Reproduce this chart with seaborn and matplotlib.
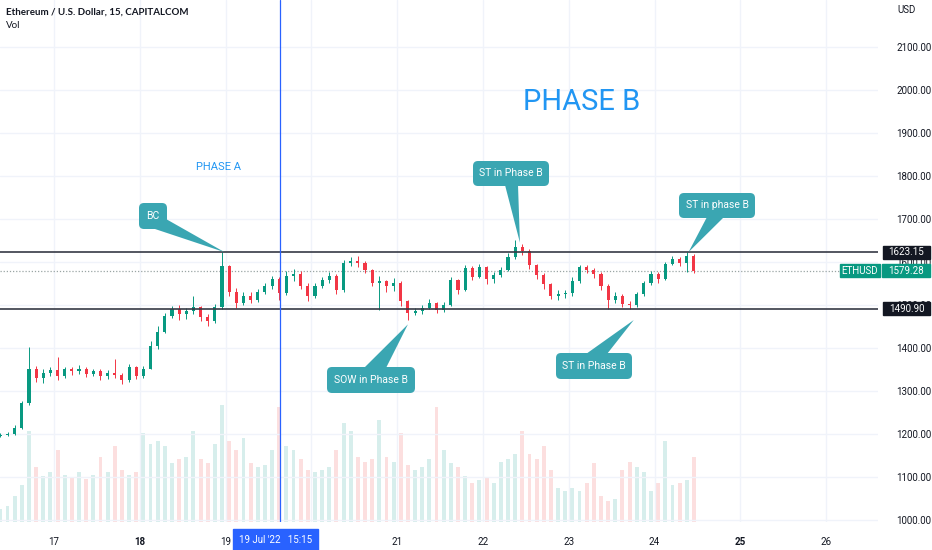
import numpy as np
import pandas as pd
import matplotlib
matplotlib.use("Agg")
import matplotlib.pyplot as plt
import matplotlib.dates as mdates
from matplotlib.patches import FancyBboxPatch, Polygon, Rectangle
from matplotlib.transforms import IdentityTransform, blended_transform_factory
import seaborn as sns

# 2h candles, starting 16 Jul 2022 08:00
first_open = 1196.0
closes = [1198, 1200, 1215, 1272, 1350, 1330, 1342, 1348, 1336, 1350,
          1346, 1352, 1340, 1346, 1334, 1342, 1338, 1326, 1356, 1336,
          1352, 1405, 1438, 1475, 1490, 1478, 1485, 1496, 1472, 1462,
          1495, 1590, 1530, 1505, 1522, 1512, 1530, 1545, 1560, 1528,
          1568, 1572, 1545, 1520, 1545, 1558, 1568, 1535, 1598, 1602,
          1598, 1582, 1552, 1555, 1545, 1552, 1510, 1482, 1486, 1494,
          1505, 1488, 1500, 1558, 1535, 1585, 1566, 1588, 1560, 1570,
          1582, 1612, 1636, 1626, 1592, 1570, 1548, 1522, 1526, 1528,
          1556, 1588, 1582, 1572, 1545, 1512, 1522, 1502, 1500, 1525,
          1550, 1572, 1560, 1595, 1608, 1598, 1615, 1579.28]
highs = [1202, 1204, 1220, 1276, 1402, 1358, 1350, 1356, 1378, 1356,
         1356, 1360, 1356, 1352, 1350, 1348, 1374, 1342, 1362, 1358,
         1358, 1416, 1450, 1482, 1498, 1500, 1492, 1522, 1498, 1478,
         1502, 1623, 1592, 1540, 1530, 1530, 1538, 1552, 1568, 1566,
         1578, 1584, 1578, 1550, 1552, 1566, 1576, 1572, 1605, 1612,
         1614, 1602, 1584, 1568, 1558, 1562, 1555, 1512, 1494, 1500,
         1515, 1508, 1508, 1564, 1560, 1594, 1590, 1596, 1590, 1576,
         1588, 1620, 1650, 1642, 1630, 1596, 1574, 1550, 1534, 1534,
         1564, 1594, 1594, 1586, 1576, 1548, 1530, 1526, 1510, 1530,
         1556, 1580, 1576, 1600, 1614, 1612, 1623, 1618]
lows = [1193, 1195, 1198, 1212, 1268, 1322, 1318, 1334, 1326, 1330,
        1338, 1340, 1333, 1334, 1326, 1328, 1330, 1316, 1322, 1328,
        1330, 1350, 1398, 1434, 1470, 1466, 1468, 1478, 1462, 1450,
        1458, 1490, 1520, 1492, 1500, 1504, 1508, 1526, 1538, 1512,
        1524, 1555, 1538, 1510, 1516, 1540, 1552, 1526, 1530, 1590,
        1588, 1575, 1544, 1488, 1530, 1532, 1498, 1465, 1476, 1478,
        1490, 1482, 1484, 1498, 1526, 1532, 1558, 1562, 1548, 1552,
        1566, 1578, 1606, 1616, 1584, 1560, 1538, 1515, 1512, 1516,
        1522, 1552, 1574, 1562, 1536, 1490, 1505, 1496, 1490, 1496,
        1520, 1546, 1552, 1558, 1592, 1590, 1576, 1574]
volumes = [10, 12, 20, 28, 70, 42, 35, 38, 55, 36,
           34, 38, 33, 36, 50, 38, 58, 40, 36, 38,
           68, 60, 62, 58, 45, 48, 50, 70, 48, 45,
           60, 90, 62, 55, 64, 45, 42, 44, 55, 88,
           58, 55, 48, 40, 38, 40, 42, 55, 76, 70,
           50, 46, 48, 78, 50, 46, 68, 44, 40, 42,
           48, 88, 55, 45, 42, 35, 30, 32, 34, 30,
           46, 48, 52, 70, 52, 48, 58, 40, 26, 24,
           26, 24, 30, 45, 20, 16, 18, 40, 46, 42,
           38, 24, 30, 62, 28, 30, 32, 50]

resistance = 1623.15
support = 1490.90
last_price = 1579.28
price_ticks = [1000, 1100, 1200, 1300, 1400, 1500, 1600, 1700, 1800, 1900, 2000, 2100]
day_ticks = [17, 18, 19, 20, 21, 22, 23, 24, 25, 26]
bold_days = [18, 25]
crosshair_time = "2022-07-19 15:15"

# text, tip time, tip price, box (x0, y0, x1, y1) px, pointer base px
callouts = [
    ("BC", "2022-07-18 23:40", 1623, (139, 203, 167, 229), [(155, 229), (166, 219)]),
    ("ST in Phase B", "2022-07-22 10:20", 1645, (473, 161, 549, 186), [(505, 185), (518, 185)]),
    ("ST in phase B", "2022-07-24 09:30", 1623, (679, 193, 755, 218), [(707, 217), (724, 217)]),
    ("SOW in Phase B", "2022-07-21 03:00", 1455, (327, 367, 415, 393), [(364, 368), (386, 368)]),
    ("ST in Phase B", "2022-07-23 18:10", 1465, (556, 353, 632, 379), [(586, 354), (607, 354)]),
]

UP, DOWN = "#26a69a", "#ef5350"
CALLOUT = "#3aa6b2"
TXT = "#131722"

sns.set_theme(style="white")
plt.rcParams['font.family'] = ['Roboto', 'DejaVu Sans']

W, H = 932, 550
fig = plt.figure(figsize=(W / 100, H / 100), dpi=100)
fig.patch.set_facecolor("white")
rect = [0, 1 - 522 / H, 878 / W, 522 / H]
axv = fig.add_axes(rect)
ax = fig.add_axes(rect)
ax.patch.set_visible(False)

starts = pd.date_range("2022-07-16 08:00", periods=len(closes), freq="2h")
tnum = mdates.date2num(starts + pd.Timedelta(hours=1))
t_first = mdates.date2num(starts[0])
bin_w = 2 / 24
opens = [first_open] + closes[:-1]
df = pd.DataFrame({"t": tnum, "open": opens, "close": closes,
                   "high": highs, "low": lows, "vol": volumes})
df["dir"] = np.where(df["close"] >= df["open"], "up", "down")

day0 = mdates.date2num(pd.Timestamp("2022-07-17"))
px_per_day = 85.8
x_left = day0 - 54 / px_per_day
x_right = x_left + 878 / px_per_day

# volume
sns.histplot(df, x="t", weights="vol", hue="dir", hue_order=["up", "down"],
             binwidth=bin_w, binrange=(t_first, t_first + bin_w * len(df)),
             palette={"up": UP, "down": DOWN}, alpha=0.18,
             shrink=0.55, linewidth=0, legend=False, ax=axv)
axv.set_xlim(x_left, x_right)
axv.set_ylim(0, 400)
axv.axis("off")

# grid
ax.set_xlim(x_left, x_right)
ax.set_ylim(995.3, 2209.3)
for p in price_ticks:
    ax.axhline(p, color="#f0f3fa", lw=1, zorder=0)
for d in day_ticks:
    ax.axvline(day0 + d - 17, color="#f0f3fa", lw=1, zorder=0)

# candles
cols = np.where(df["dir"] == "up", "#089981", "#f23645")
ax.vlines(df["t"], df["low"], df["high"], colors=cols, lw=0.7, zorder=2)
body = np.maximum((df["close"] - df["open"]).abs(), 1.2)
ax.bar(df["t"], body, bottom=np.minimum(df["open"], df["close"]),
       width=0.036, color=cols, linewidth=0, zorder=2)

ax.axhline(resistance, color="#363a45", lw=1.2, zorder=3)
ax.axhline(support, color="#363a45", lw=1.2, zorder=3)
ax.axhline(last_price, color="#9aa5a4", lw=0.9, ls=(0, (1, 1.5)), zorder=1)
ax.axvline(mdates.date2num(pd.Timestamp(crosshair_time)), color="#2962ff", lw=0.9, zorder=4)

# axes
ax.yaxis.tick_right()
ax.set_yticks(price_ticks)
ax.set_yticklabels([f"{p:.2f}" for p in price_ticks])
ax.tick_params(axis="y", length=0, pad=13, labelsize=7, labelcolor=TXT)
ax.set_xticks([day0 + d - 17 for d in day_ticks])
ax.set_xticklabels(["" if d == 20 else str(d) for d in day_ticks])
ax.tick_params(axis="x", length=0, pad=11, labelsize=7, labelcolor=TXT)
for lab, d in zip(ax.get_xticklabels(), day_ticks):
    if d in bold_days:
        lab.set_fontweight("bold")
sns.despine(ax=ax, left=True, bottom=True, right=True, top=True)
ax.grid(False)

# price scale labels
blend = blended_transform_factory(ax.transAxes, ax.transData)
hpx = 13 / 0.43
def price_box(x0, x1, price, text, color):
    ax.add_patch(Rectangle((x0 / 878, price - hpx / 2), (x1 - x0) / 878, hpx,
                           transform=blend, color=color, clip_on=False, zorder=5))
    ax.text((x0 + x1) / 2 / 878, price, text, transform=blend, color="white",
            fontsize=7, ha="center", va="center", clip_on=False, zorder=6)

price_box(883, 930, resistance, f"{resistance:.2f}", TXT)
price_box(840, 880, last_price, "ETHUSD", "#089981")
price_box(882, 930, last_price, f"{last_price:.2f}", "#089981")
price_box(883, 930, support, f"{support:.2f}", TXT)

# crosshair time label
fig.add_artist(Rectangle((233, 0), 85, 21, transform=IdentityTransform(),
                         color="#2962ff", zorder=5))
fig.text(276 / W, 1 - 540 / H, "19 Jul '22   15:15", color="white", fontsize=7,
         ha="center", va="center", zorder=6)

# header texts
fig.text(6 / W, 1 - 12 / H, "Ethereum / U.S. Dollar, 15, CAPITALCOM", fontsize=7,
         weight="bold", color=TXT, va="center", family=["Lato", "DejaVu Sans"])
fig.text(6 / W, 1 - 25 / H, "Vol", fontsize=7, color=TXT, va="center",
         family=["Lato", "DejaVu Sans"])
fig.text(897 / W, 1 - 10 / H, "USD", fontsize=7, color=TXT, va="center")

fig.text(582 / W, 1 - 102 / H, "PHASE B", fontsize=21, color="#2196f3",
         ha="center", va="center")
fig.text(219 / W, 1 - 167 / H, "PHASE A", fontsize=8, color="#2196f3",
         ha="center", va="center")

# callouts
for text, tt, tp, (x0, y0, x1, y1), base in callouts:
    tip = ax.transData.transform((mdates.date2num(pd.Timestamp(tt)), tp))
    pts = [(bx, H - by) for bx, by in base] + [tuple(tip)]
    fig.add_artist(Polygon(pts, closed=True, transform=IdentityTransform(),
                           color=CALLOUT, lw=0, zorder=5))
    fig.add_artist(FancyBboxPatch((x0, H - y1), x1 - x0, y1 - y0,
                                  boxstyle="round,pad=0,rounding_size=5",
                                  transform=IdentityTransform(), fc=CALLOUT,
                                  ec="none", zorder=5))
    fig.text((x0 + x1) / 2 / W, 1 - (y0 + y1) / 2 / H, text, color="white",
             fontsize=7.5, ha="center", va="center", zorder=6)

fig.savefig("out.png", dpi=100)
